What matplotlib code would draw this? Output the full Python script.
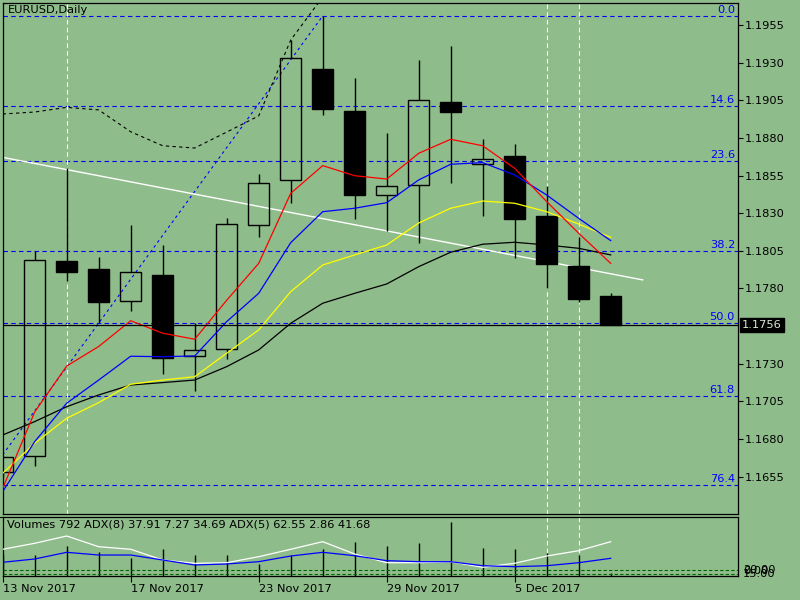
import matplotlib
matplotlib.use('Agg')
import matplotlib.pyplot as plt
from matplotlib.transforms import blended_transform_factory as btf, offset_copy

BG = '#8FBC8B'
plt.rcParams['font.family'] = ['DejaVu Sans']

# ---------------- data ----------------
bars = list(range(20))
opens  = [1.1658, 1.1669, 1.1798, 1.1793, 1.1772, 1.1789, 1.1735, 1.1740, 1.1822, 1.1852,
          1.1926, 1.1898, 1.1842, 1.1849, 1.1904, 1.1863, 1.1868, 1.1828, 1.1795, 1.1775]
highs  = [1.1669, 1.1805, 1.1860, 1.1801, 1.1822, 1.1809, 1.1757, 1.1827, 1.1856, 1.1945,
          1.1961, 1.1920, 1.1883, 1.1932, 1.1941, 1.1879, 1.1876, 1.1848, 1.1814, 1.1777]
lows   = [1.1655, 1.1662, 1.1785, 1.1757, 1.1765, 1.1723, 1.1712, 1.1733, 1.1814, 1.1837,
          1.1895, 1.1826, 1.1818, 1.1810, 1.1850, 1.1828, 1.1800, 1.1780, 1.1771, 1.1756]
closes = [1.1668, 1.1799, 1.1791, 1.1771, 1.1791, 1.1734, 1.1739, 1.1823, 1.1850, 1.1933,
          1.1899, 1.1842, 1.1848, 1.1905, 1.1897, 1.1866, 1.1826, 1.1796, 1.1773, 1.1756]

ma_red    = [1.16473, 1.16980, 1.17285, 1.17415, 1.17586, 1.17503, 1.17463, 1.17722, 1.17967, 1.18432,
             1.18616, 1.18549, 1.18527, 1.18698, 1.18791, 1.18748, 1.18598, 1.18377, 1.18167, 1.17967]
ma_blue   = [1.16451, 1.16783, 1.17038, 1.17192, 1.17350, 1.17347, 1.17352, 1.17580, 1.17768, 1.18104,
             1.18310, 1.18333, 1.18370, 1.18521, 1.18625, 1.18636, 1.18554, 1.18421, 1.18266, 1.18118]
ma_yellow = [1.16573, 1.16772, 1.16938, 1.17042, 1.17164, 1.17192, 1.17214, 1.17370, 1.17525, 1.17779,
             1.17956, 1.18023, 1.18089, 1.18235, 1.18333, 1.18381, 1.18366, 1.18310, 1.18228, 1.18140]
ma_black  = [1.16827, 1.16916, 1.17015, 1.17093, 1.17159, 1.17175, 1.17192, 1.17281, 1.17392, 1.17569,
             1.17702, 1.17768, 1.17830, 1.17945, 1.18041, 1.18094, 1.18107, 1.18089, 1.18067, 1.18023]
band_upper = [1.18959, 1.18972, 1.19003, 1.18986, 1.18841, 1.18748, 1.18733, 1.18839, 1.18946, 1.19450, 1.19736]

fib_high, fib_low = 1.1961, 1.1553
fib_high_bar, fib_low_bar = 10, -4
fib_levels = [0.0, 14.6, 23.6, 38.2, 50.0, 61.8, 76.4]

trend_bars = [0, 20]
trend_prices = [1.18671, 1.17857]

vlines_main = [2, 17, 18]
vlines_low = [17, 18]

last_price = 1.1756
price_ticks = [1.1955, 1.1930, 1.1905, 1.1880, 1.1855, 1.1830, 1.1805, 1.1780, 1.1730, 1.1705, 1.1680, 1.1655]

volumes = [6000, 5648, 8103, 6466, 4829, 7285, 5729, 5648, 3192, 5729,
           7285, 9194, 8103, 8921, 14651, 7475, 7203, 6111, 5648, 792]
vol_max = 16097
adx5 = [51.3, 60.2, 71.0, 55.1, 51.3, 35.4, 30.5, 31.4, 40.3, 51.3,
        62.6, 44.3, 31.4, 31.4, 32.9, 24.6, 30.5, 41.3, 49.2, 62.55]
adx8 = [32.0, 36.9, 46.8, 42.8, 42.8, 35.4, 28.0, 29.5, 32.9, 41.3,
        46.8, 41.8, 34.4, 32.9, 32.9, 26.9, 25.5, 26.9, 31.4, 37.9]
adx_levels = [20, 15]

date_labels = ['13 Nov 2017', '17 Nov 2017', '23 Nov 2017', '29 Nov 2017', '5 Dec 2017']
date_bars = [0, 4, 8, 12, 16]

title = 'EURUSD,Daily'
sub_title = 'Volumes 792 ADX(8) 37.91 7.27 34.69 ADX(5) 62.55 2.86 41.68'

# ---------------- layout ----------------
W, H = 800, 600
fig = plt.figure(figsize=(8, 6), dpi=100, facecolor=BG)

def rect(l, t, r, b):
    return [l / W, 1 - b / H, (r - l) / W, (b - t) / H]

ax = fig.add_axes(rect(2.7, 2.7, 738, 514), facecolor=BG)
axl = fig.add_axes(rect(2.7, 516.7, 738, 575.7), facecolor=BG)

XMAX = (738 - 2.7) / 32.0
for a in (ax, axl):
    a.set_xlim(0, XMAX)
    for s in a.spines.values():
        s.set_color('black')
        s.set_linewidth(0.9)

ax.set_ylim(1.163023, 1.196981)

FS = 8.2
# price axis
ax.yaxis.tick_right()
ax.set_yticks(price_ticks)
ax.set_yticklabels([f'{p:.4f}' for p in price_ticks])
ax.tick_params(axis='y', direction='out', length=3.5, width=0.8, pad=1, labelsize=FS, colors='black')
ax.set_xticks([])

# fibonacci levels
rng = fib_high - fib_low
tr_r = offset_copy(ax.transAxes, fig=fig, x=-3, y=0, units='dots')
for lv in fib_levels:
    p = fib_high - lv / 100.0 * rng
    ax.axhline(p, color='#0000FF', lw=0.8, ls=(0, (4, 3)), zorder=1)
    ax.text(1.0, p, f'{lv:.1f}', color='#0000FF', fontsize=FS, ha='right', va='bottom',
            transform=btf(offset_copy(ax.transAxes, fig=fig, x=-3, y=0, units='dots'),
                          offset_copy(ax.transData, fig=fig, x=0, y=1, units='dots')), zorder=6)
ax.plot([fib_low_bar, fib_high_bar], [fib_low, fib_high], color='#0000FF', lw=0.8,
        ls=(0, (2.5, 3)), zorder=1)

# vertical white dashed lines
for b in vlines_main:
    ax.axvline(b, color='white', lw=0.8, ls=(0, (4, 3)), zorder=1)
for b in vlines_low:
    axl.axvline(b, color='white', lw=0.8, ls=(0, (4, 3)), zorder=1)

# white trendline
ax.plot(trend_bars, trend_prices, color='white', lw=1.0, zorder=2)

# candles
for i, o, h, l, c in zip(bars, opens, highs, lows, closes):
    top, bot = max(o, c), min(o, c)
    ax.vlines(i, top, h, color='black', lw=1.0, zorder=3)
    ax.vlines(i, l, bot, color='black', lw=1.0, zorder=3)
    bull = c >= o
    ax.bar(i, max(top - bot, 0.00002), bottom=bot, width=0.67,
           facecolor='none' if bull else 'black', edgecolor='black', linewidth=1.0, zorder=3)

# moving averages
ax.plot(bars[:len(band_upper)], band_upper, color='black', lw=0.8, ls=(0, (3, 3)), zorder=4)
ax.plot(bars, ma_black, color='black', lw=0.9, zorder=4)
ax.plot(bars, ma_yellow, color='#FFFF00', lw=0.9, zorder=4)
ax.plot(bars, ma_blue, color='#0000FF', lw=0.9, zorder=4)
ax.plot(bars, ma_red, color='#FF0000', lw=0.9, zorder=4)

# last price
ax.axhline(last_price, color='black', lw=0.9, zorder=5)
ax.text(1.0, last_price, f'{last_price:.4f}', fontsize=FS, color='#D8ECD4', ha='left', va='center',
        transform=btf(offset_copy(ax.transAxes, fig=fig, x=4, y=0, units='dots'), ax.transData),
        bbox=dict(boxstyle='square,pad=0.18', facecolor='black', edgecolor='black'),
        clip_on=False, zorder=10)

ax.text(0.0, 1.0, title, fontsize=FS, color='black', ha='left', va='top',
        transform=offset_copy(ax.transAxes, fig=fig, x=5, y=-2, units='dots'))

# ---------------- lower panel ----------------
axl.set_ylim(0, vol_max)
axl.vlines(bars, 0, volumes, color='black', lw=1.0, zorder=3)
axl.yaxis.tick_right()
axl.set_yticks([vol_max])
axl.set_yticklabels([str(vol_max)])
axl.tick_params(axis='y', direction='out', length=3.5, width=0.8, pad=1, labelsize=FS)
for lbl in axl.get_yticklabels():
    lbl.set_va('top')

axl.set_xticks(date_bars)
axl.set_xticklabels(date_labels, ha='left')
axl.tick_params(axis='x', direction='out', length=4, width=0.8, pad=2, labelsize=FS)

ada = axl.twinx()
ada.set_xlim(0, XMAX)
ada.set_ylim(12.11, 99.64)
ada.set_yticks([])
for s in ada.spines.values():
    s.set_visible(False)
for lv in adx_levels:
    ada.axhline(lv, color='#006400', lw=0.8, ls=(0, (3, 2)), zorder=2)
ada.plot(bars, adx5, color='white', lw=0.9, zorder=4)
ada.plot(bars, adx8, color='#0000FF', lw=0.9, zorder=4)

for txt, v in [('20.00', 20), ('15.00', 15)]:
    ada.text(1.0, v, txt, fontsize=FS, ha='left', va='center', clip_on=False,
             transform=btf(offset_copy(ada.transAxes, fig=fig, x=5, y=0, units='dots'), ada.transData))
axl.text(1.0, 0, '0.00', fontsize=FS, ha='left', va='bottom', clip_on=False,
         transform=btf(offset_copy(axl.transAxes, fig=fig, x=5, y=-4, units='dots'), axl.transData))

axl.text(0.0, 1.0, sub_title, fontsize=FS, color='black', ha='left', va='top',
         transform=offset_copy(axl.transAxes, fig=fig, x=4, y=-3, units='dots'), zorder=6)

fig.savefig('out.png', dpi=100, facecolor=BG)
